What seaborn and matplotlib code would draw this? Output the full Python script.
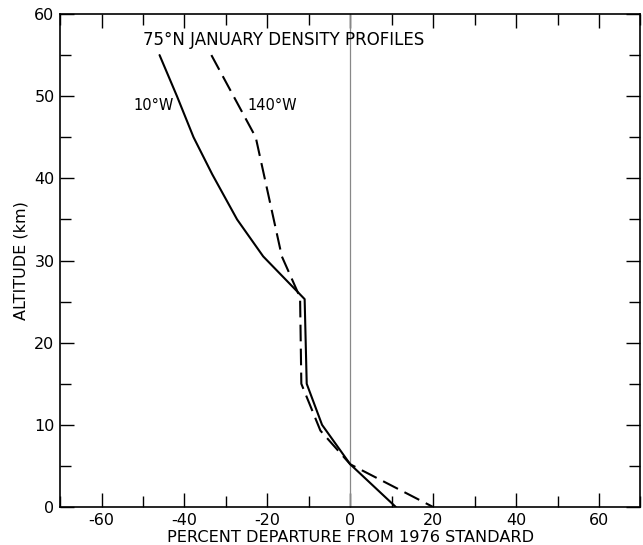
import pandas as pd
import matplotlib
matplotlib.use('Agg')
import matplotlib.pyplot as plt
from matplotlib.ticker import MultipleLocator
import seaborn as sns

# profile data (percent departure vs altitude in km)
alt_10w = [55, 50, 45, 40.5, 35, 30.5, 25.3, 15, 10, 5.2, 0]
dep_10w = [-46, -41.8, -37.8, -33.3, -27.3, -21, -11, -10.5, -6.8, 0, 11]

alt_140w = [55, 45, 30.5, 25.5, 15, 9.3, 5.2, 0]
dep_140w = [-33.5, -22.8, -16.5, -12.1, -11.8, -7.2, 0, 20]

x_ticks = [-60, -40, -20, 0, 20, 40, 60]
y_ticks = [0, 10, 20, 30, 40, 50, 60]

df = pd.concat([
    pd.DataFrame({'dep': dep_10w, 'alt': alt_10w, 'profile': '10°W'}),
    pd.DataFrame({'dep': dep_140w, 'alt': alt_140w, 'profile': '140°W'}),
])

sns.set_style('ticks')
plt.rcParams['font.family'] = ['DejaVu Sans']
plt.rcParams['axes.unicode_minus'] = False
plt.rcParams['text.color'] = 'black'
plt.rcParams['axes.labelcolor'] = 'black'
plt.rcParams['xtick.color'] = 'black'
plt.rcParams['ytick.color'] = 'black'

fig = plt.figure(figsize=(6.43, 5.45), dpi=100)
ax = fig.add_axes([0.0934, 0.0697, 0.9026, 0.9046])

ax.axvline(0, color='#888888', lw=0.9, zorder=1)

sns.lineplot(data=df, x='dep', y='alt', hue='profile', style='profile',
             sort=False, estimator=None, palette=['black', 'black'],
             dashes={'10°W': '', '140°W': (8, 3.5)}, linewidth=1.5,
             legend=False, ax=ax)

ax.set_xlim(-70, 70)
ax.set_ylim(0, 60)
ax.set_xticks(x_ticks)
ax.set_yticks(y_ticks)
ax.xaxis.set_minor_locator(MultipleLocator(10))
ax.yaxis.set_minor_locator(MultipleLocator(5))
ax.tick_params(which='both', direction='in', top=True, right=True,
               color='black', width=1.0, labelsize=11.5, pad=4)
ax.tick_params(which='major', length=10)
ax.tick_params(which='minor', length=8)
for s in ax.spines.values():
    s.set_linewidth(1.2)
    s.set_color('black')

ax.set_xlabel('PERCENT DEPARTURE FROM 1976 STANDARD', fontsize=11.6, labelpad=2)
ax.set_ylabel('ALTITUDE (km)', fontsize=11.5, labelpad=4)

ax.text(-49.9, 56.8, '75°N JANUARY DENSITY PROFILES', fontsize=12,
        va='center', ha='left')
ax.text(-52.3, 48.9, '10°W', fontsize=10.5, va='center', ha='left')
ax.text(-24.7, 48.9, '140°W', fontsize=10.5, va='center', ha='left')

fig.savefig('out.png', dpi=100)
